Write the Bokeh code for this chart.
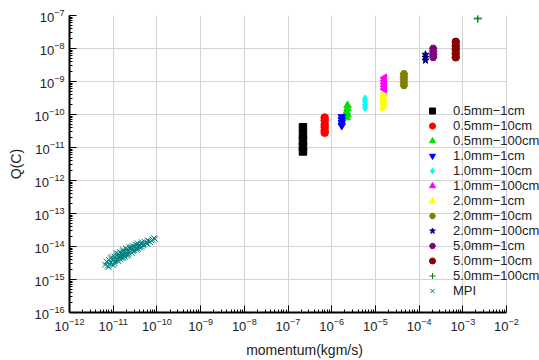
import math
from bokeh.plotting import figure
from bokeh.models import Legend, LegendItem, Range1d, LogTicker, FixedTicker
from bokeh.embed import file_html
from bokeh.resources import INLINE

# ---------------- data ----------------
labels = ["0.5mm\u22121cm", "0.5mm\u221210cm", "0.5mm\u2212100cm",
          "1.0mm\u22121cm", "1.0mm\u221210cm", "1.0mm\u2212100cm",
          "2.0mm\u22121cm", "2.0mm\u221210cm", "2.0mm\u2212100cm",
          "5.0mm\u22121cm", "5.0mm\u221210cm", "5.0mm\u2212100cm", "MPI"]

x_decades = [-12, -11, -10, -9, -8, -7, -6, -5, -4, -3, -2]

x_05_1 = [2.2e-7, 2.2e-7, 2.2e-7, 2.2e-7, 2.2e-7]
y_05_1 = [4.1e-11, 2.5e-11, 1.6e-11, 1.07e-11, 7.6e-12]
x_05_10 = [6.9e-7, 6.9e-7, 6.9e-7, 6.9e-7, 6.9e-7, 6.9e-7]
y_05_10 = [8.1e-11, 6.6e-11, 5.0e-11, 4.1e-11, 3.3e-11, 2.8e-11]
x_05_100 = [2.3e-6, 2.3e-6, 2.2e-6, 2.3e-6, 2.2e-6]
y_05_100 = [1.9e-10, 1.5e-10, 1.2e-10, 1.0e-10, 8.1e-11]
x_10_1 = [1.7e-6, 1.7e-6, 1.7e-6, 1.7e-6]
y_10_1 = [8.5e-11, 6.9e-11, 5.6e-11, 4.6e-11]
x_10_10 = [5.8e-6, 5.8e-6, 5.8e-6, 5.8e-6]
y_10_10 = [3.0e-10, 2.5e-10, 2.0e-10, 1.6e-10]
x_10_100 = [1.6e-5, 1.6e-5, 1.6e-5, 1.6e-5, 1.6e-5]
y_10_100 = [1.3e-9, 1.07e-9, 8.7e-10, 7.1e-10, 5.8e-10]
x_20_1 = [1.5e-5, 1.5e-5, 1.5e-5, 1.5e-5, 1.5e-5]
y_20_1 = [3.8e-10, 3.0e-10, 2.5e-10, 2.0e-10, 1.6e-10]
x_20_10 = [4.5e-5, 4.5e-5, 4.5e-5, 4.5e-5, 4.5e-5]
y_20_10 = [1.7e-9, 1.4e-9, 1.15e-9, 9.3e-10, 7.6e-10]
x_20_100 = [1.4e-4, 1.4e-4, 1.4e-4]
y_20_100 = [6.6e-9, 5.4e-9, 4.4e-9]
x_50_1 = [2.1e-4, 2.1e-4, 2.1e-4, 2.1e-4]
y_50_1 = [1.0e-8, 8.1e-9, 6.6e-9, 5.4e-9]
x_50_10 = [6.9e-4, 6.9e-4, 6.9e-4, 6.9e-4, 6.9e-4]
y_50_10 = [1.6e-8, 1.2e-8, 9.3e-9, 7.1e-9, 5.4e-9]
x_50_100 = [2.2e-3, 2.2e-3]
y_50_100 = [8.3e-8, 7.9e-8]

x_mpi = [6.5e-12, 7.0e-12, 7.5e-12, 8.0e-12, 8.2e-12, 8.8e-12, 9.0e-12, 9.5e-12,
         1.0e-11, 1.05e-11, 1.1e-11, 1.15e-11, 1.2e-11, 1.2e-11, 1.25e-11, 1.3e-11,
         1.35e-11, 1.4e-11, 1.45e-11, 1.5e-11, 1.55e-11, 1.6e-11, 1.65e-11, 1.7e-11,
         1.75e-11, 1.8e-11, 1.9e-11, 2.0e-11, 2.0e-11, 2.1e-11, 2.2e-11, 2.3e-11,
         2.4e-11, 2.5e-11, 2.6e-11, 2.7e-11, 2.8e-11, 3.0e-11, 3.1e-11, 3.3e-11,
         3.5e-11, 3.7e-11, 4.0e-11, 4.3e-11, 4.6e-11, 5.0e-11, 5.5e-11, 6.0e-11,
         6.5e-11, 7.0e-11, 8.0e-11, 9.0e-11,
         9.2e-12, 1.08e-11, 1.18e-11, 1.32e-11, 1.42e-11, 1.58e-11, 1.68e-11,
         1.85e-11, 1.95e-11, 2.15e-11, 2.25e-11, 2.35e-11, 2.55e-11, 2.75e-11,
         2.9e-11, 3.2e-11, 3.4e-11, 3.6e-11, 3.8e-11, 4.2e-11, 4.5e-11, 4.8e-11,
         5.2e-11, 5.8e-11, 6.2e-11, 7.5e-11, 8.5e-11, 7.8e-12, 8.5e-12, 1.02e-11]
y_mpi = [2.8e-15, 3.5e-15, 2.6e-15, 3.9e-15, 3.0e-15, 4.4e-15, 3.3e-15, 2.9e-15,
         4.0e-15, 5.0e-15, 3.6e-15, 4.6e-15, 5.5e-15, 3.8e-15, 4.2e-15, 6.0e-15,
         4.8e-15, 5.3e-15, 4.1e-15, 6.5e-15, 5.0e-15, 5.8e-15, 7.2e-15, 4.6e-15,
         6.2e-15, 5.4e-15, 7.0e-15, 6.0e-15, 8.2e-15, 5.2e-15, 7.5e-15, 6.4e-15,
         8.8e-15, 7.0e-15, 9.5e-15, 6.3e-15, 8.0e-15, 1.0e-14, 7.6e-15, 9.0e-15,
         1.1e-14, 8.5e-15, 1.05e-14, 1.2e-14, 9.8e-15, 1.15e-14, 1.3e-14, 1.2e-14,
         1.45e-14, 1.35e-14, 1.6e-14, 1.7e-14,
         4.8e-15, 3.1e-15, 6.4e-15, 3.6e-15, 6.8e-15, 4.4e-15, 8.0e-15,
         4.9e-15, 8.8e-15, 6.9e-15, 5.6e-15, 9.6e-15, 8.2e-15, 1.05e-14,
         7.0e-15, 1.15e-14, 8.0e-15, 1.25e-14, 1.0e-14, 9.2e-15, 1.35e-14, 1.1e-14,
         1.4e-14, 1.28e-14, 1.55e-14, 1.5e-14, 1.8e-14, 2.4e-15, 3.6e-15, 2.7e-15]

# ---------------- figure ----------------
FONT = "Liberation Sans"
X_AXIS_START, X_AXIS_END = 10.0 ** x_decades[0], 10.0 ** x_decades[-1]
p = figure(width=539, height=360, x_axis_type="log", y_axis_type="log",
           x_range=Range1d(X_AXIS_START, 10 ** -1.245), y_range=Range1d(1e-16, 1e-7),
           output_backend="svg", toolbar_location=None,
           min_border_left=69, min_border_right=0, min_border_top=15,
           min_border_bottom=48)
p.outline_line_color = None
p.background_fill_color = "white"
p.border_fill_color = "white"

x_major = [10.0 ** k for k in x_decades]
x_minor = [m * 10.0 ** k for k in x_decades[:-1] for m in range(2, 10)]
p.xaxis.ticker = FixedTicker(ticks=x_major, minor_ticks=x_minor)
p.yaxis.ticker = LogTicker(desired_num_ticks=12, num_minor_ticks=10)
p.xaxis.bounds = (X_AXIS_START, X_AXIS_END)

p.grid.grid_line_color = "#d4d4d4"
p.grid.grid_line_width = 1
p.ygrid.cross_bounds = (X_AXIS_START, X_AXIS_END)

for ax in (p.xaxis[0], p.yaxis[0]):
    ax.axis_line_color = "black"
    ax.axis_line_width = 2
    ax.major_tick_in = 7
    ax.major_tick_out = 0
    ax.minor_tick_in = 3
    ax.minor_tick_out = 0
    ax.major_tick_line_color = "black"
    ax.minor_tick_line_color = "black"
    ax.major_label_text_font = FONT
    ax.major_label_text_font_size = "13px"
    ax.major_label_text_color = "#222222"
    ax.axis_label_text_font = FONT
    ax.axis_label_text_font_style = "normal"
    ax.axis_label_text_font_size = "14px"
    ax.axis_label_text_color = "#222222"

p.xaxis.axis_label = "momentum(kgm/s)"
p.yaxis.axis_label = "Q(C)"
p.xaxis.axis_label_standoff = 8
p.yaxis.axis_label_standoff = 8

series = [
    (x_05_1, y_05_1, "square", "black", 0),
    (x_05_10, y_05_10, "circle", "#ff0000", 0),
    (x_05_100, y_05_100, "triangle", "#00e000", 0),
    (x_10_1, y_10_1, "inverted_triangle", "#0000ff", 0),
    (x_10_10, y_10_10, "diamond", "#00ffff", 0),
    (x_10_100, y_10_100, "triangle", "#ff00ff", math.pi / 2),
    (x_20_1, y_20_1, "triangle", "#ffff00", -math.pi / 2),
    (x_20_10, y_20_10, "hex", "#808000", 0),
    (x_20_100, y_20_100, "star", "#000080", 0),
    (x_50_1, y_50_1, "hex", "#800080", 0),
    (x_50_10, y_50_10, "circle", "#8b0000", 0),
    (x_50_100, y_50_100, "cross", "#008000", 0),
    (x_mpi, y_mpi, "x", "#008080", 0),
]

items = []
for (xs, ys, marker, color, ang), lab in zip(series, labels):
    if marker in ("cross", "x"):
        r = p.scatter(xs, ys, marker=marker, size=8, line_color=color,
                      line_width=1, angle=ang)
    else:
        r = p.scatter(xs, ys, marker=marker, size=7.5, fill_color=color,
                      line_color=color, angle=ang)
    items.append(LegendItem(label=lab, renderers=[r]))

legend = Legend(items=items, location=(353, 14), padding=0, margin=0,
                spacing=0, glyph_width=20, glyph_height=15, label_height=15,
                label_standoff=11, background_fill_alpha=0,
                border_line_color=None, label_text_font=FONT,
                label_text_font_size="13px", label_text_color="#222222")
p.add_layout(legend, "center")

open("out.html", "w").write(file_html(p, INLINE))
